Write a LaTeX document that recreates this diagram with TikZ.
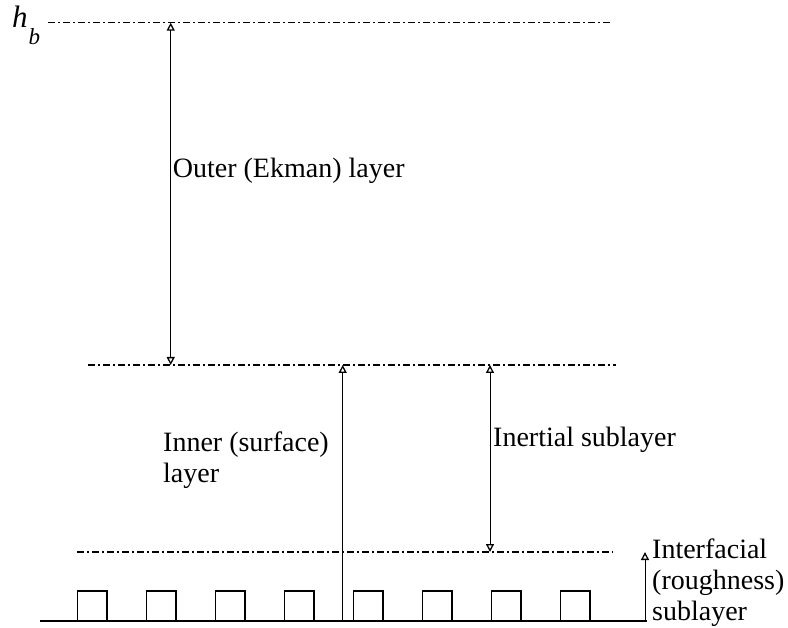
\documentclass[tikz,border=0pt]{standalone}
\usepackage{fontspec}
\setmainfont{Liberation Serif}
\usetikzlibrary{arrows.meta}
\tikzset{
  tip/.style={Triangle[open,length=8pt,width=8pt,line width=1.3pt]},
  level/.style={line width=1.4pt, dash pattern=on 7pt off 3pt on 2pt off 3pt},
  dimarrow/.style={line width=1pt, {Triangle[open,length=8pt,width=8pt,line width=1.3pt]}-{Triangle[open,length=8pt,width=8pt,line width=1.3pt]}},
  uparrow/.style={line width=1pt, -{Triangle[open,length=8pt,width=8pt,line width=1.3pt]}},
  lbl/.style={inner sep=0pt, anchor=north west, align=left, font=\fontsize{28}{31}\selectfont},
  ground/.style={line width=2pt},
  rough/.style={line width=1.6pt}
}
\begin{document}
\begin{tikzpicture}[x=1pt,y=-1pt]
\useasboundingbox (0,0) rectangle (788,628);
% levels
\coordinate (topL) at (48,22.7);   \coordinate (topR) at (610,22.7);
\coordinate (midL) at (88,365);    \coordinate (midR) at (616,365);
\coordinate (lowL) at (77,552);    \coordinate (lowR) at (613,552);
\coordinate (gndL) at (40,620.7);  \coordinate (gndR) at (647,620.7);
\draw[level] (topL) -- (topR);
\draw[level] (midL) -- (midR);
\draw[level] (lowL) -- (lowR);
\draw[ground] (gndL) -- (gndR);
% roughness elements
\foreach \i in {0,...,7}{
  \draw[rough] ({77.3+69*\i},620.7) -- ({77.3+69*\i},591) -- ({106.8+69*\i},591) -- ({106.8+69*\i},620.7);
}
% arrow end points
\coordinate (ekT) at (170.7,22.7); \coordinate (ekB) at (170.7,365);
\coordinate (inB) at (342.7,620.7); \coordinate (inT) at (342.7,365);
\coordinate (isT) at (490,365);    \coordinate (isB) at (490,552);
\coordinate (rfB) at (645,620.7);  \coordinate (rfT) at (645,552);
\draw[dimarrow] (ekT) -- (ekB);
\draw[uparrow] (inB) -- (inT);
\draw[dimarrow] (isT) -- (isB);
\draw[uparrow] (rfB) -- (rfT);
% labels
\node[inner sep=0pt, anchor=base west] (hb) at (12,28) {\fontsize{31}{31}\selectfont\itshape h\hspace{1pt}\raisebox{-17pt}{\fontsize{23}{23}\selectfont b}};
\node[lbl] (outer) at (172.7,158) {Outer (Ekman) layer};
\node[lbl] (inner) at (163,432) {Inner (surface)\\layer};
\node[lbl] (inertial) at (493,427) {Inertial sublayer};
\node[lbl] (interf) at (652,539) {Interfacial\\(roughness)\\sublayer};
\end{tikzpicture}
\end{document}
